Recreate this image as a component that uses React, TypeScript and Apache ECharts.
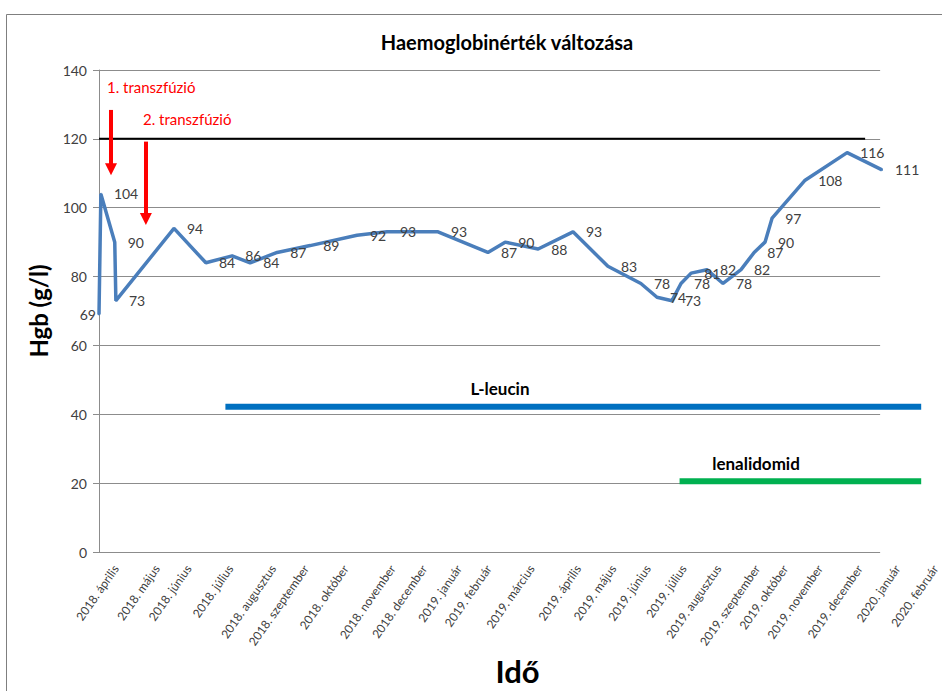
import React, { useEffect, useRef } from "react";
import * as echarts from "echarts";

const FONT = "Lato, 'Open Sans', 'Noto Sans', sans-serif";

// Measurement times (months from the start of the time axis) and Hgb values (g/l)
const hgbTime = [
  0.0, 0.05, 0.42, 0.45, 2.0, 2.85, 3.55, 4.03, 4.75, 5.63,
  6.88, 7.68, 9.04, 10.37, 10.83, 11.71, 12.64, 13.57, 14.45, 14.88,
  15.28, 15.52, 15.79, 16.21, 16.64, 17.12, 17.47, 17.76, 17.95, 18.83,
  19.95, 20.88,
];
const hgbValues = [
  69, 104, 90, 73, 94, 84, 86, 84, 87, 89,
  92, 93, 93, 87, 90, 88, 93, 83, 78, 74,
  73, 78, 81, 82, 78, 82, 87, 90, 97, 108,
  116, 111,
];

// Month labels along the time axis and their positions
const monthLabels = [
  "2018. április", "2018. május", "2018. június", "2018. július", "2018. augusztus",
  "2018. szeptember", "2018. október", "2018. november", "2018. december",
  "2019. január", "2019. február", "2019. március", "2019. április", "2019. május",
  "2019. június", "2019. július", "2019. augusztus", "2019. szeptember",
  "2019. október", "2019. november", "2019. december", "2020. január", "2020. február",
];
const monthPos = [
  0.45, 1.55, 2.4, 3.52, 4.67, 5.55, 6.61, 7.87, 8.72, 9.65, 10.45, 11.6,
  12.85, 13.79, 14.72, 15.68, 16.61, 17.65, 18.4, 19.33, 20.4, 21.41, 22.43,
];

// Reference (upper normal) level
const normalLevel = 120;
const normalSpan = [0, 20.43];

// Treatment periods: [start, end], drawn level
const treatmentNames = ["L-leucin", "lenalidomid"];
const treatmentSpans = [
  [3.39, 22.05],
  [15.57, 22.05],
];
const treatmentLevels = [40.6, 18.6];
const treatmentColors = ["#0070c0", "#00b050"];

// Transfusions: time, arrow from value, arrow to value
const transfusionNames = ["1. transzfúzió", "2. transzfúzió"];
const transfusionTime = [0.32, 1.25];
const transfusionFrom = [128.4, 119.2];
const transfusionTo = [111.2, 96.7];

const Y_TICKS = [0, 20, 40, 60, 80, 100, 120, 140];
const MAIN_MAX = 20.83;
const FULL_MAX = 22.45;
const PX_PER_UNIT = 37.5;

export default function App() {
  const ref = useRef<HTMLDivElement>(null);

  useEffect(() => {
    if (!ref.current) return;
    const chart = echarts.init(ref.current, undefined, { renderer: "svg" });

    const hgbData = hgbTime.map((t, i) => {
      const item: any = { value: [t, hgbValues[i]] };
      if (i === 0) {
        item.label = { position: "left", distance: 2, offset: [6, 6] };
      }
      return item;
    });

    const text = (x: number, y: number, s: string, font: string, fill: string, align: string) => ({
      type: "text",
      x,
      y,
      silent: true,
      style: {
        text: s,
        font,
        fill,
        align,
        verticalAlign: "middle",
        textAlign: align,
        textVerticalAlign: "middle",
      },
    });

    const option: any = {
      animation: false,
      textStyle: { fontFamily: FONT },
      grid: [
        { left: 99, top: 70, width: MAIN_MAX * PX_PER_UNIT, height: 482 },
        { left: 99, top: 70, width: FULL_MAX * PX_PER_UNIT, height: 482 },
      ],
      xAxis: [
        {
          type: "value",
          gridIndex: 0,
          min: 0,
          max: MAIN_MAX,
          show: false,
        },
        {
          type: "value",
          gridIndex: 1,
          min: 0,
          max: FULL_MAX,
          axisLine: { show: false },
          axisTick: { show: false },
          splitLine: { show: false },
          axisLabel: {
            customValues: monthPos,
            formatter: (v: number) => {
              const idx = monthPos.findIndex((p) => Math.abs(p - v) < 1e-6);
              return idx >= 0 ? monthLabels[idx] : "";
            },
            rotate: 55,
            margin: 22,
            fontSize: 12,
            color: "#404040",
            fontFamily: FONT,
          },
          name: "Idő",
          nameLocation: "middle",
          nameGap: 103,
          nameTextStyle: {
            fontSize: 31,
            fontWeight: "bold",
            color: "#000",
            fontFamily: FONT,
          },
        },
      ],
      yAxis: [
        {
          type: "value",
          gridIndex: 0,
          min: Y_TICKS[0],
          max: Y_TICKS[Y_TICKS.length - 1],
          interval: 20,
          axisLine: { show: true, lineStyle: { color: "#8c8c8c", width: 1 } },
          axisTick: { show: true, length: 6, lineStyle: { color: "#8c8c8c" } },
          axisLabel: { fontSize: 14, color: "#404040", margin: 12, fontFamily: FONT },
          splitLine: { show: true, lineStyle: { color: "#8c8c8c", width: 1 } },
          name: "Hgb (g/l)",
          nameLocation: "middle",
          nameGap: 49,
          nameTextStyle: {
            fontSize: 24,
            fontWeight: "bold",
            color: "#000",
            fontFamily: FONT,
          },
        },
        {
          type: "value",
          gridIndex: 1,
          min: Y_TICKS[0],
          max: Y_TICKS[Y_TICKS.length - 1],
          show: false,
          splitLine: { show: false },
        },
      ],
      series: [
        {
          name: "normal",
          type: "line",
          xAxisIndex: 0,
          yAxisIndex: 0,
          data: normalSpan.map((t) => [t, normalLevel]),
          symbol: "none",
          lineStyle: { color: "#000", width: 2 },
          silent: true,
          z: 2,
        },
        ...treatmentNames.map((n, i) => ({
          name: n,
          type: "line",
          xAxisIndex: 1,
          yAxisIndex: 1,
          data: treatmentSpans[i].map((t) => [t, treatmentLevels[i]]),
          symbol: "none",
          lineStyle: { color: treatmentColors[i], width: 6 },
          silent: true,
          z: 3,
        })),
        {
          name: "Hgb",
          type: "line",
          xAxisIndex: 0,
          yAxisIndex: 0,
          data: hgbData,
          clip: false,
          symbol: "circle",
          symbolSize: 2,
          showSymbol: true,
          itemStyle: { color: "#4a7ebb" },
          lineStyle: { color: "#4a7ebb", width: 3.5 },
          label: {
            show: true,
            position: "right",
            distance: 12,
            fontSize: 14,
            color: "#404040",
            fontFamily: FONT,
            formatter: (p: any) => String(p.value[1]),
          },
          labelLayout: { hideOverlap: false },
          markLine: {
            silent: true,
            symbol: ["none", "triangle"],
            symbolSize: [12, 12],
            lineStyle: { color: "#ff0000", width: 4, type: "solid" },
            itemStyle: { color: "#ff0000" },
            label: { show: false },
            data: transfusionTime.map((t, i) => [
              { coord: [t, transfusionFrom[i]] },
              { coord: [t, transfusionTo[i]] },
            ]),
          },
          z: 4,
        },
      ],
      graphic: [
        {
          type: "rect",
          shape: { x: 6.5, y: 14.5, width: 960, height: 700 },
          style: { fill: "none", stroke: "#7f7f7f", lineWidth: 1 },
          silent: true,
        },
        text(507, 42, "Haemoglobinérték változása", `bold 20px ${FONT}`, "#000", "center"),
        text(107, 87, transfusionNames[0], `15px ${FONT}`, "#ff0000", "left"),
        text(143, 119, transfusionNames[1], `15px ${FONT}`, "#ff0000", "left"),
        text(500, 388, treatmentNames[0], `bold 17px ${FONT}`, "#000", "center"),
        text(756, 463, treatmentNames[1], `bold 17px ${FONT}`, "#000", "center"),
      ],
    };

    chart.setOption(option);
    return () => chart.dispose();
  }, []);

  return (
    <div
      ref={ref}
      style={{ position: "fixed", left: 0, top: 0, width: 942, height: 691, background: "#fff" }}
    />
  );
}
